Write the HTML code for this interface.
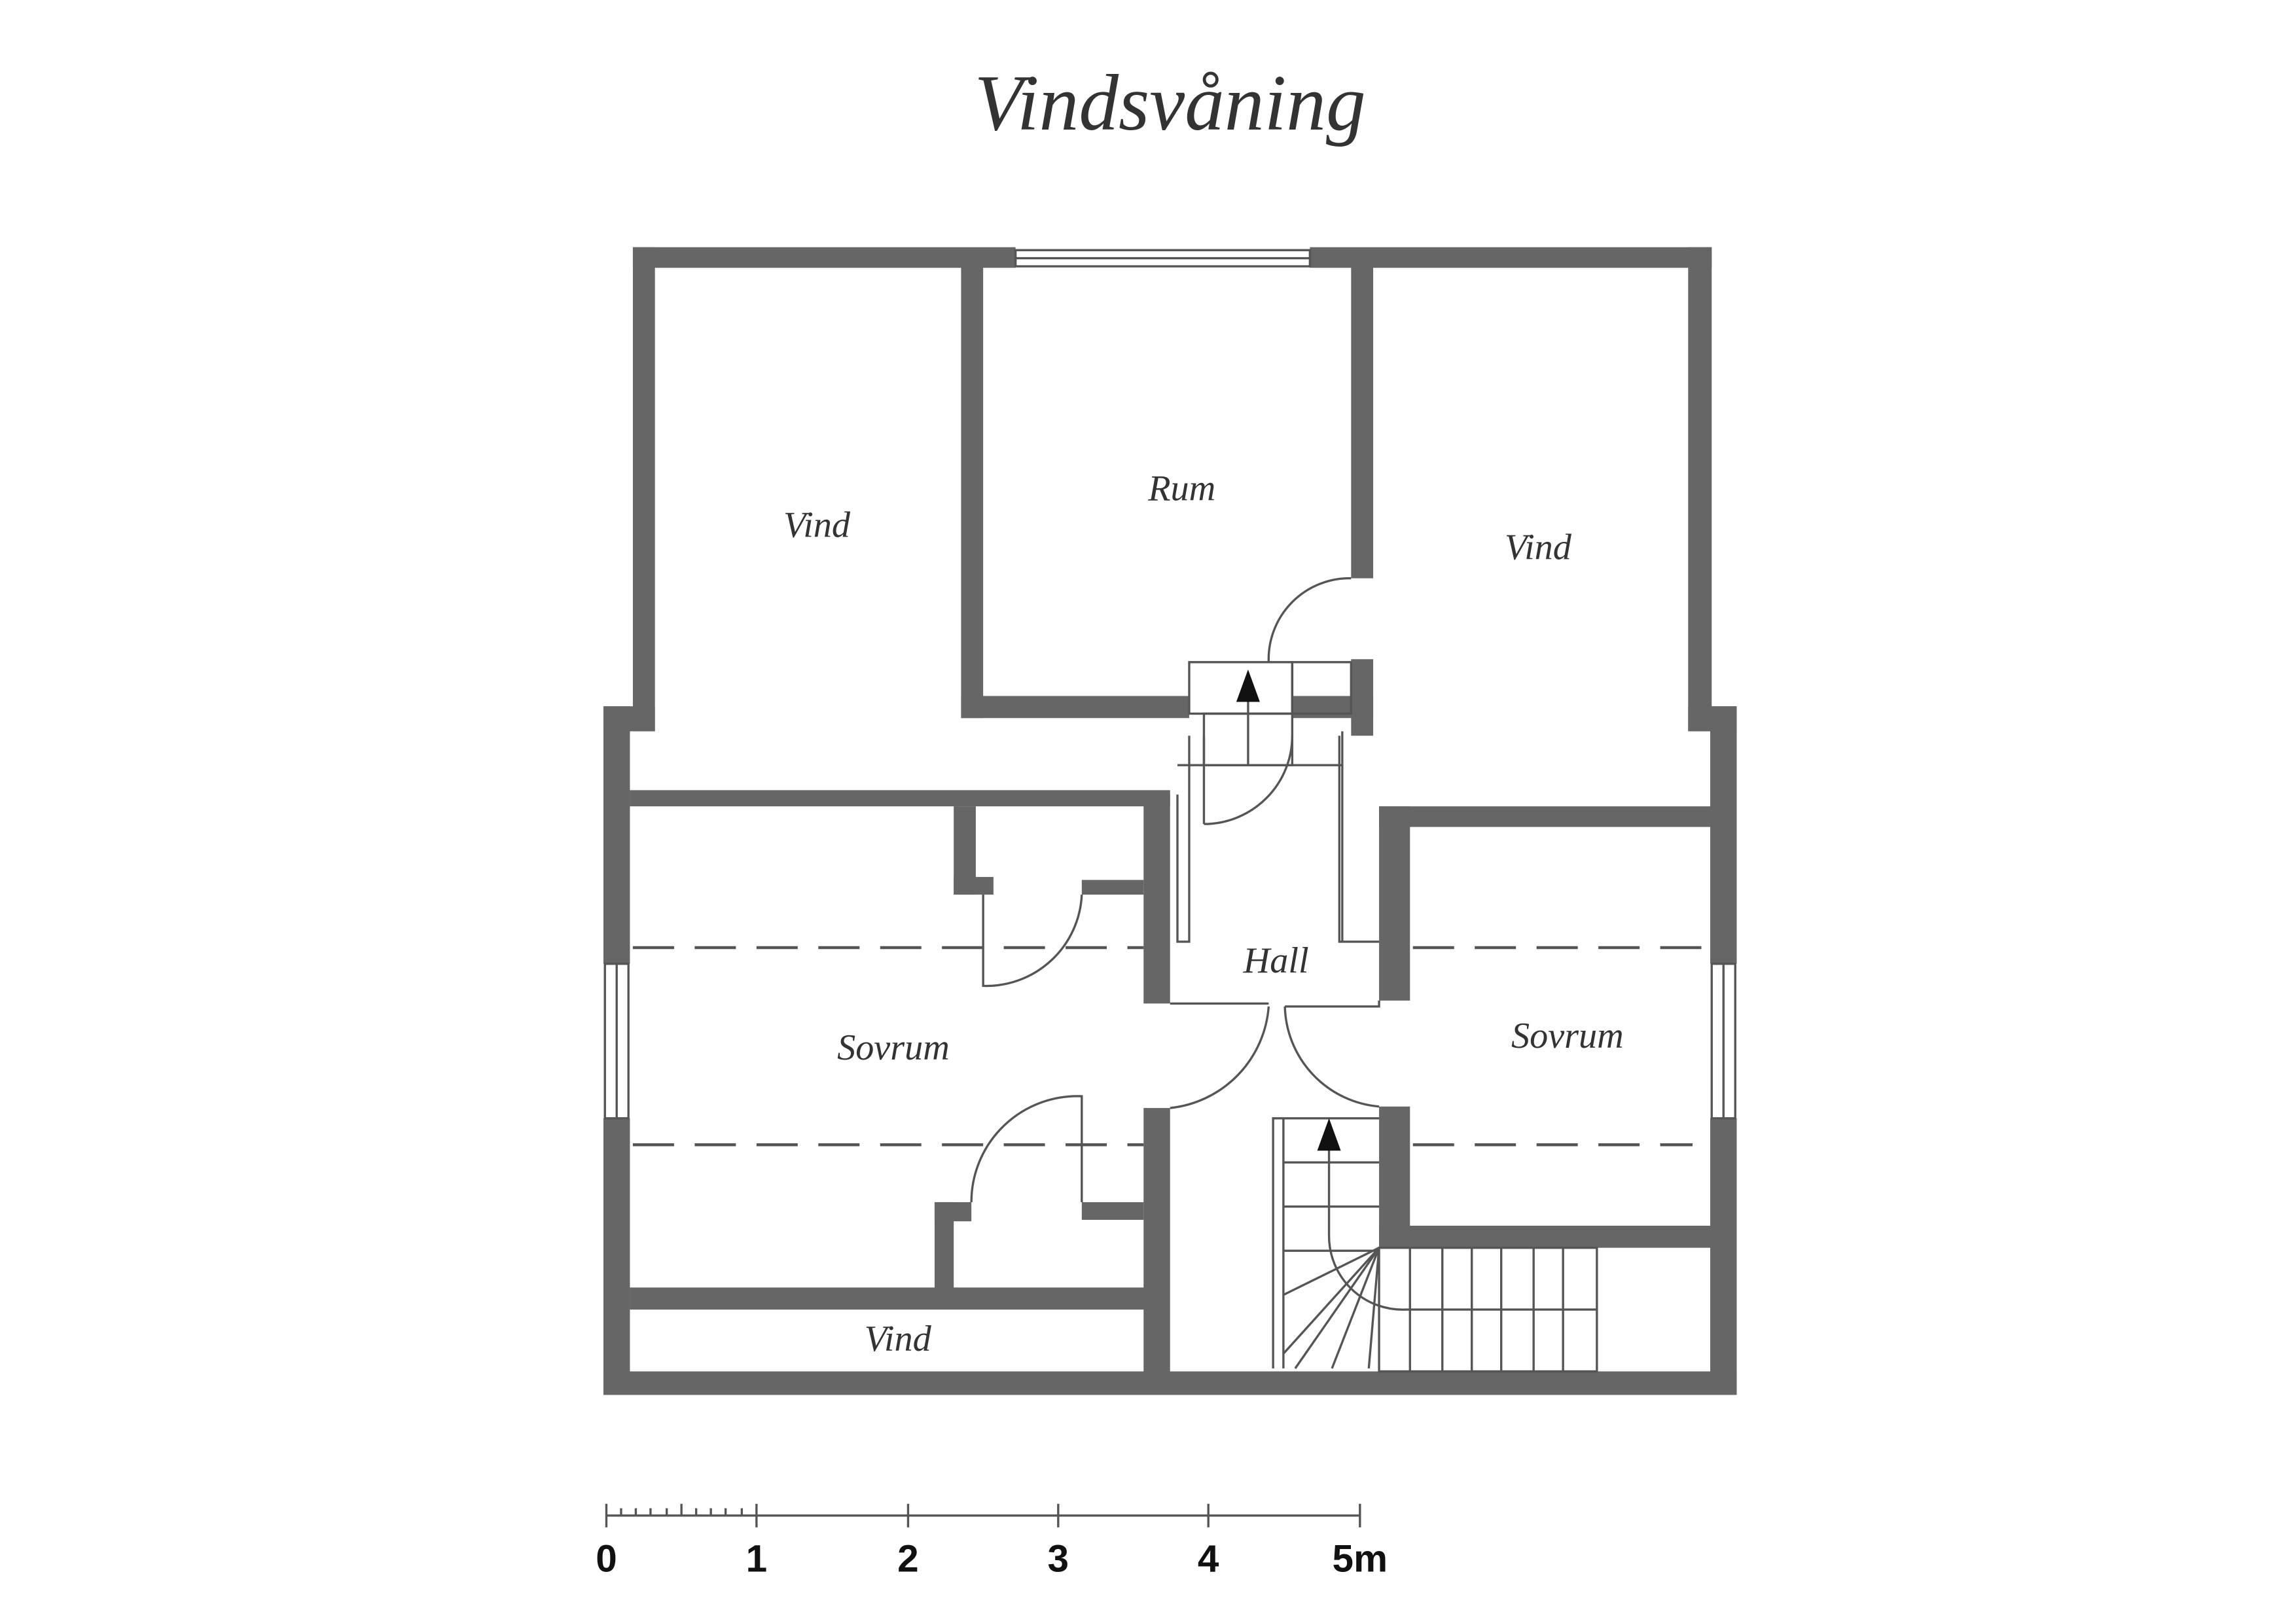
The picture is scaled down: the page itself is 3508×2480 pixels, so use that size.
<!DOCTYPE html>
<html><head><meta charset="utf-8"><style>
html,body{margin:0;padding:0;background:#fff;}
svg{display:block}
</style></head><body>
<svg width="3508" height="2480" viewBox="0 0 1560 1103" preserveAspectRatio="none" xmlns="http://www.w3.org/2000/svg">
<rect width="1560" height="1103" fill="#fff"/>
<text x="795" y="88" text-anchor="middle" font-family="Liberation Serif, serif" font-style="italic" font-size="54" fill="#333">Vindsvåning</text>
<g fill="#666">
<rect x="430" y="168" width="260" height="14"/>
<rect x="890" y="168" width="273" height="14"/>
<rect x="430" y="168" width="15" height="329"/>
<rect x="410" y="480" width="18" height="175"/>
<rect x="410" y="760" width="18" height="188"/>
<rect x="410" y="480" width="35" height="17"/>
<rect x="1147" y="168" width="16" height="329"/>
<rect x="1162" y="480" width="18" height="175"/>
<rect x="1162" y="760" width="18" height="188"/>
<rect x="1147" y="480" width="33" height="17"/>
<rect x="410" y="932" width="770" height="16"/>
<rect x="653" y="180" width="15" height="308"/>
<rect x="653" y="473" width="155" height="15"/>
<rect x="878" y="473" width="55" height="15"/>
<rect x="918" y="180" width="15" height="213"/>
<rect x="918" y="448" width="15" height="52"/>
<rect x="428" y="537" width="367" height="11"/>
<rect x="777" y="540" width="18" height="142"/>
<rect x="777" y="753" width="18" height="180"/>
<rect x="648" y="548" width="15" height="60"/>
<rect x="648" y="596" width="27" height="12"/>
<rect x="735" y="598" width="42" height="10"/>
<rect x="735" y="817" width="42" height="12"/>
<rect x="635" y="817" width="25" height="13"/>
<rect x="635" y="817" width="13" height="60"/>
<rect x="428" y="875" width="357" height="15"/>
<rect x="937" y="548" width="225" height="14"/>
<rect x="937" y="548" width="21" height="132"/>
<rect x="937" y="752" width="21" height="96"/>
<rect x="937" y="833" width="225" height="15"/>
</g>
<g fill="none" stroke="#555" stroke-width="1.5">
<rect x="690" y="170" width="200" height="11"/>
<line x1="690" y1="175.5" x2="890" y2="175.5"/>
<rect x="411" y="655" width="16" height="105"/>
<line x1="419" y1="655" x2="419" y2="760"/>
<rect x="1163" y="655" width="16" height="105"/>
<line x1="1171" y1="655" x2="1171" y2="760"/>
<polyline points="800,540 800,640 808,640 808,500"/>
<polyline points="795,682 862,682"/>
<polyline points="873,684 937,684 937,680"/>
<polyline points="910,500 910,640 937,640"/>
<line x1="912" y1="497" x2="912" y2="640"/>
<rect x="808" y="450" width="70" height="35"/>
<rect x="878" y="450" width="40" height="35"/>
<rect x="818" y="485" width="60" height="35"/>
<line x1="800" y1="520" x2="912" y2="520"/>
<line x1="848" y1="470" x2="848" y2="520"/>
<path d="M818,560 L818,500 M818,560 A60,60 0 0 0 878,500"/>
<path d="M862,450 A55,55 0 0 1 918,393"/>
<path d="M668,608 L668,670 A65,65 0 0 0 735,608"/>
<path d="M660,817 A72,72 0 0 1 735,745 L735,817"/>
<path d="M862,684 A75,75 0 0 1 795,753"/>
<path d="M873,684 A70,70 0 0 0 937,752"/>
<polyline points="865,930 865,760 937,760"/>
<line x1="872" y1="760" x2="872" y2="930"/>
<line x1="872" y1="790" x2="937" y2="790"/>
<line x1="872" y1="820" x2="937" y2="820"/>
<line x1="872" y1="850" x2="937" y2="850"/>
<line x1="937" y1="848" x2="872" y2="880"/>
<line x1="937" y1="848" x2="880" y2="930"/>
<line x1="937" y1="848" x2="905" y2="930"/>
<line x1="937" y1="848" x2="930" y2="930"/>
<line x1="937" y1="848" x2="872" y2="920"/>
<rect x="937" y="848" width="148" height="84"/>
<line x1="958" y1="848" x2="958" y2="932"/>
<line x1="980" y1="848" x2="980" y2="932"/>
<line x1="1000" y1="848" x2="1000" y2="932"/>
<line x1="1020" y1="848" x2="1020" y2="932"/>
<line x1="1042" y1="848" x2="1042" y2="932"/>
<line x1="1062" y1="848" x2="1062" y2="932"/>
<path d="M903,780 L903,840 A50,50 0 0 0 955,890 L1085,890"/>
<line x1="412" y1="1030" x2="924" y2="1030"/>
</g>
<g stroke="#555" stroke-width="2" stroke-dasharray="28,14">
<line x1="430" y1="644" x2="777" y2="644"/>
<line x1="430" y1="778" x2="777" y2="778"/>
<line x1="960" y1="644" x2="1162" y2="644"/>
<line x1="960" y1="778" x2="1150" y2="778"/>
</g>
<g fill="#111">
<path d="M848,455 L840,477 L856,477 Z"/>
<path d="M903,760 L895,782 L911,782 Z"/>
</g>
<g font-family="Liberation Serif, serif" font-style="italic" font-size="25" fill="#333" text-anchor="middle">
<text x="555" y="365">Vind</text>
<text x="803" y="340">Rum</text>
<text x="1045" y="380">Vind</text>
<text x="867" y="661">Hall</text>
<text x="607" y="720">Sovrum</text>
<text x="1065" y="712">Sovrum</text>
<text x="610" y="918">Vind</text>
</g>
<g stroke="#555" stroke-width="1.5">
<line x1="412" y1="1022" x2="412" y2="1038"/>
<line x1="514" y1="1022" x2="514" y2="1038"/>
<line x1="617" y1="1022" x2="617" y2="1038"/>
<line x1="719" y1="1022" x2="719" y2="1038"/>
<line x1="821" y1="1022" x2="821" y2="1038"/>
<line x1="924" y1="1022" x2="924" y2="1038"/>
<line x1="422" y1="1025" x2="422" y2="1030"/><line x1="432" y1="1025" x2="432" y2="1030"/>
<line x1="442" y1="1025" x2="442" y2="1030"/><line x1="453" y1="1025" x2="453" y2="1030"/>
<line x1="463" y1="1022" x2="463" y2="1030"/><line x1="473" y1="1025" x2="473" y2="1030"/>
<line x1="483" y1="1025" x2="483" y2="1030"/><line x1="493" y1="1025" x2="493" y2="1030"/>
<line x1="504" y1="1025" x2="504" y2="1030"/>
</g>
<g font-family="Liberation Sans, sans-serif" font-weight="bold" font-size="26" fill="#111" text-anchor="middle">
<text x="412" y="1068">0</text>
<text x="514" y="1068">1</text>
<text x="617" y="1068">2</text>
<text x="719" y="1068">3</text>
<text x="821" y="1068">4</text>
<text x="924" y="1068">5m</text>
</g>
</svg>
</body></html>
